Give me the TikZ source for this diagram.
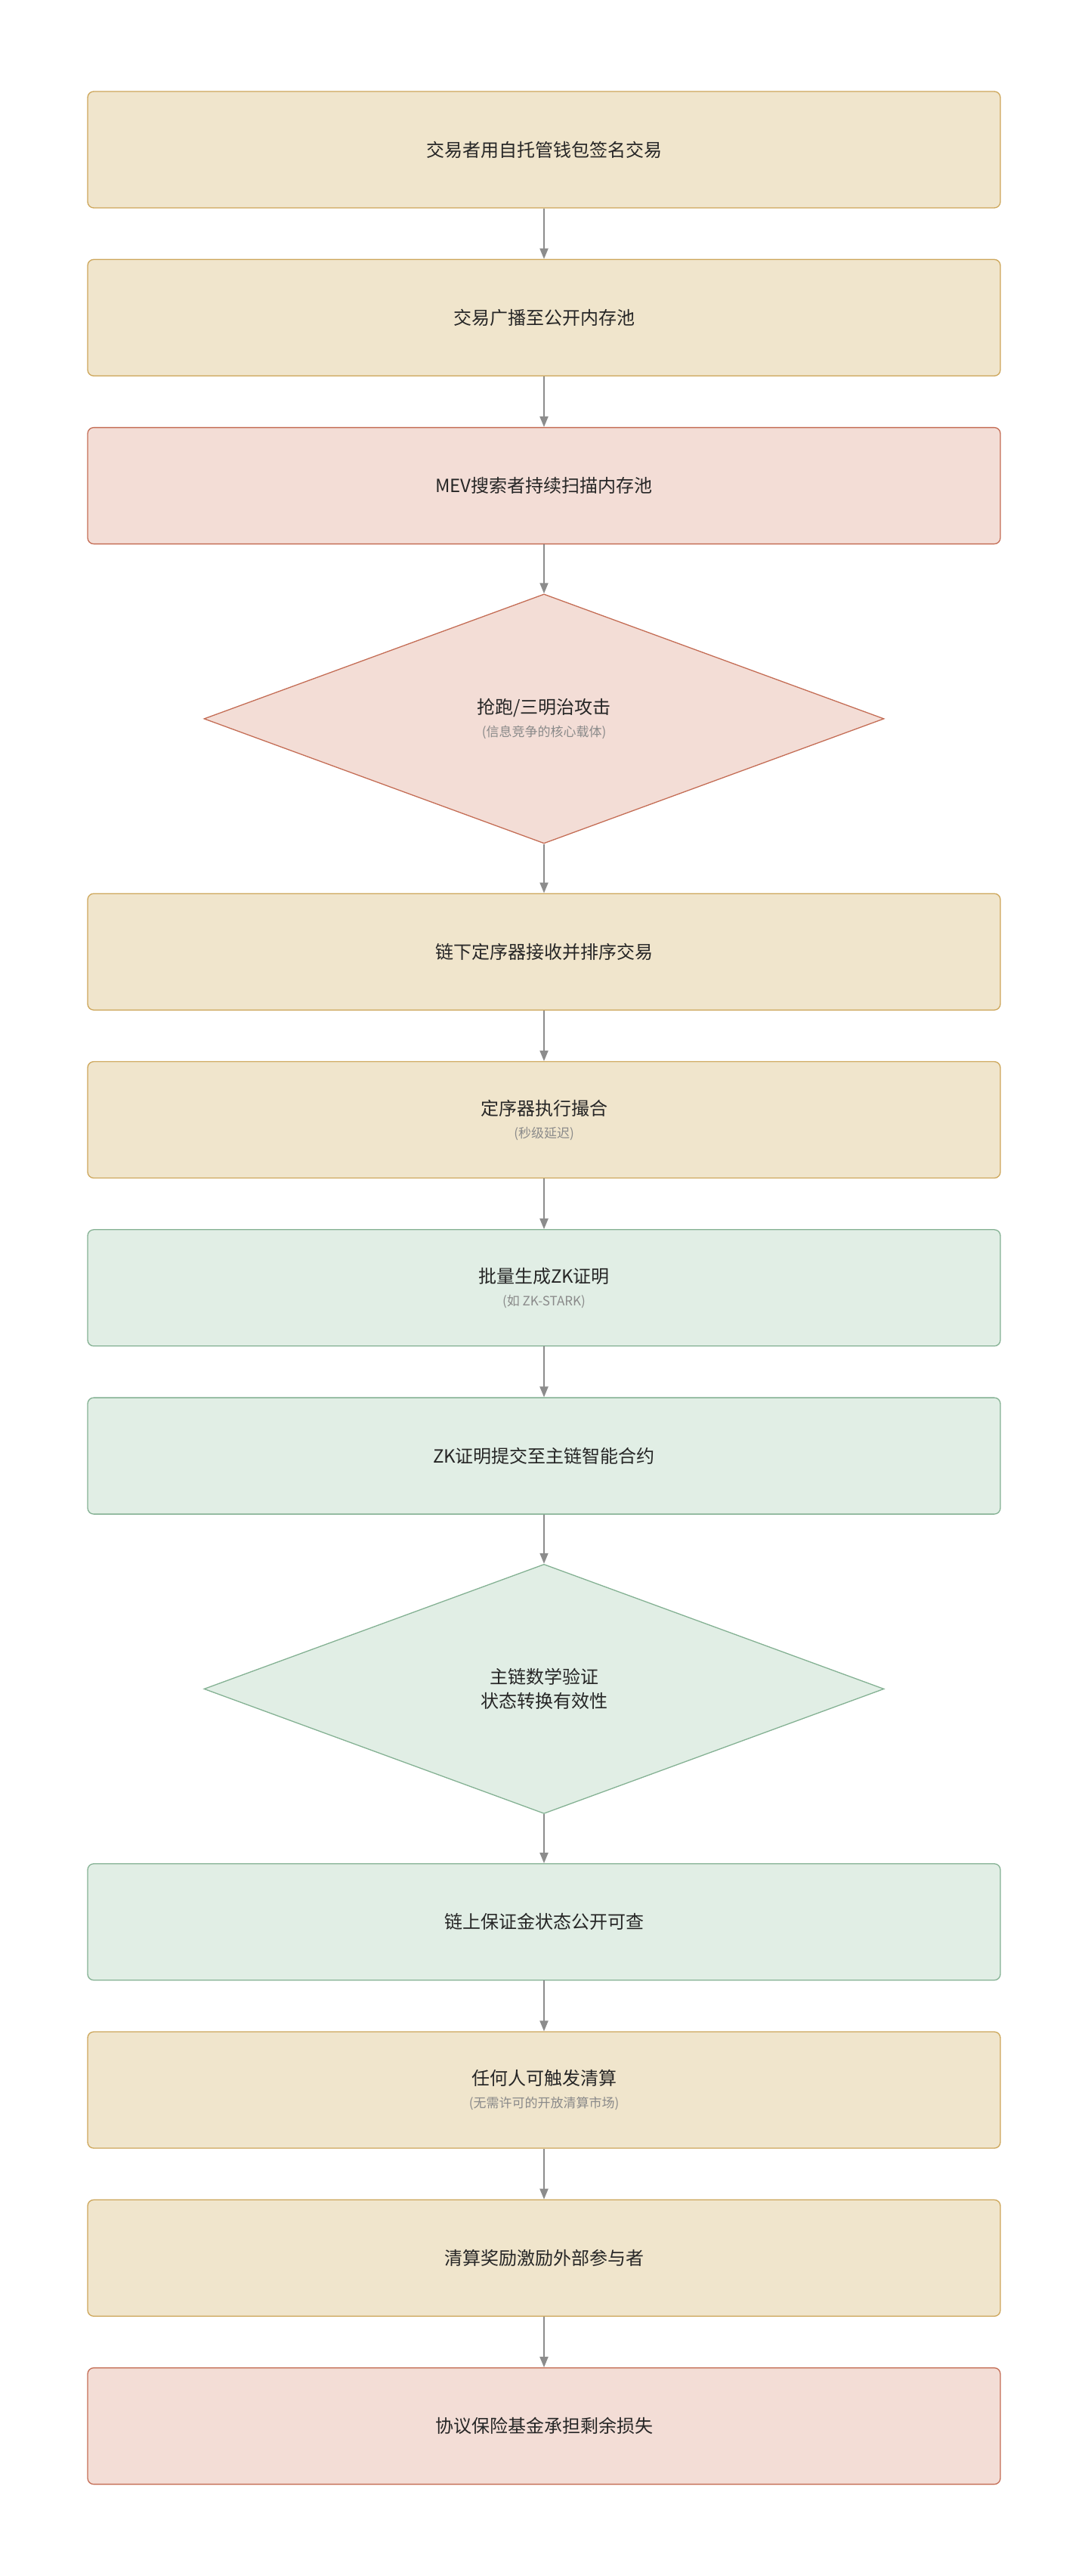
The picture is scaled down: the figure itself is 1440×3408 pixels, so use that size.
\documentclass[tikz,border=0pt]{standalone}
\usepackage{fontspec}
\setmainfont{Noto Sans CJK SC}
\usetikzlibrary{shapes.geometric, arrows.meta, positioning}

\definecolor{tanfill}{HTML}{F0E5CC}
\definecolor{tanline}{HTML}{CDA65A}
\definecolor{redfill}{HTML}{F3DDD6}
\definecolor{redline}{HTML}{C46D55}
\definecolor{grnfill}{HTML}{E1EEE5}
\definecolor{grnline}{HTML}{84B193}
\definecolor{flowgray}{HTML}{8C8C8C}
\definecolor{subgray}{HTML}{8A8A8A}

\tikzset{
  stepbox/.style={draw, rounded corners=8pt, line width=1.3pt, minimum width=1208pt, minimum height=154pt,
    align=center, font=\fontsize{24}{32}\selectfont, text=black!85},
  tanbox/.style={stepbox, fill=tanfill, draw=tanline},
  redbox/.style={stepbox, fill=redfill, draw=redline},
  grnbox/.style={stepbox, fill=grnfill, draw=grnline},
  check/.style={diamond, draw, line width=1.3pt, minimum width=900pt, minimum height=330pt, inner sep=0pt,
    align=center, font=\fontsize{24}{32}\selectfont, text=black!85},
  flow/.style={-{Triangle[length=14pt, width=11pt]}, draw=flowgray, line width=2pt},
}
\newcommand{\subnote}[1]{\\[-2pt]{\fontsize{17}{24}\selectfont\color{subgray}#1}}

\begin{document}
\begin{tikzpicture}[node distance=67pt]
        \useasboundingbox (0, 0) rectangle (1440pt, -3408pt);
        \node[tanbox] (Sign) at (720pt, -198pt) {交易者用自托管钱包签名交易};
        \node[tanbox, below=of Sign] (Broadcast) {交易广播至公开内存池};
        \node[redbox, below=of Broadcast] (Scan) {MEV搜索者持续扫描内存池};
        \node[check, fill=redfill, draw=redline, below=65pt of Scan] (Attack) {抢跑/三明治攻击\subnote{(信息竞争的核心载体)}};
        \node[tanbox, below=65pt of Attack] (Order) {链下定序器接收并排序交易};
        \node[tanbox, below=of Order] (Match) {定序器执行撮合\subnote{(秒级延迟)}};
        \node[grnbox, below=of Match] (Prove) {批量生成ZK证明\subnote{(如 ZK-STARK)}};
        \node[grnbox, below=of Prove] (Submit) {ZK证明提交至主链智能合约};
        \node[check, fill=grnfill, draw=grnline, below=65pt of Submit] (Verify) {主链数学验证\\状态转换有效性};
        \node[grnbox, below=65pt of Verify] (Margin) {链上保证金状态公开可查};
        \node[tanbox, below=of Margin] (Liquidate) {任何人可触发清算\subnote{(无需许可的开放清算市场)}};
        \node[tanbox, below=of Liquidate] (Reward) {清算奖励激励外部参与者};
        \node[redbox, below=of Reward] (Fund) {协议保险基金承担剩余损失};

        \draw[flow] (Sign) -- (Broadcast);
        \draw[flow] (Broadcast) -- (Scan);
        \draw[flow] (Scan) -- (Attack);
        \draw[flow] (Attack) -- (Order);
        \draw[flow] (Order) -- (Match);
        \draw[flow] (Match) -- (Prove);
        \draw[flow] (Prove) -- (Submit);
        \draw[flow] (Submit) -- (Verify);
        \draw[flow] (Verify) -- (Margin);
        \draw[flow] (Margin) -- (Liquidate);
        \draw[flow] (Liquidate) -- (Reward);
        \draw[flow] (Reward) -- (Fund);
    \end{tikzpicture}
\end{document}
